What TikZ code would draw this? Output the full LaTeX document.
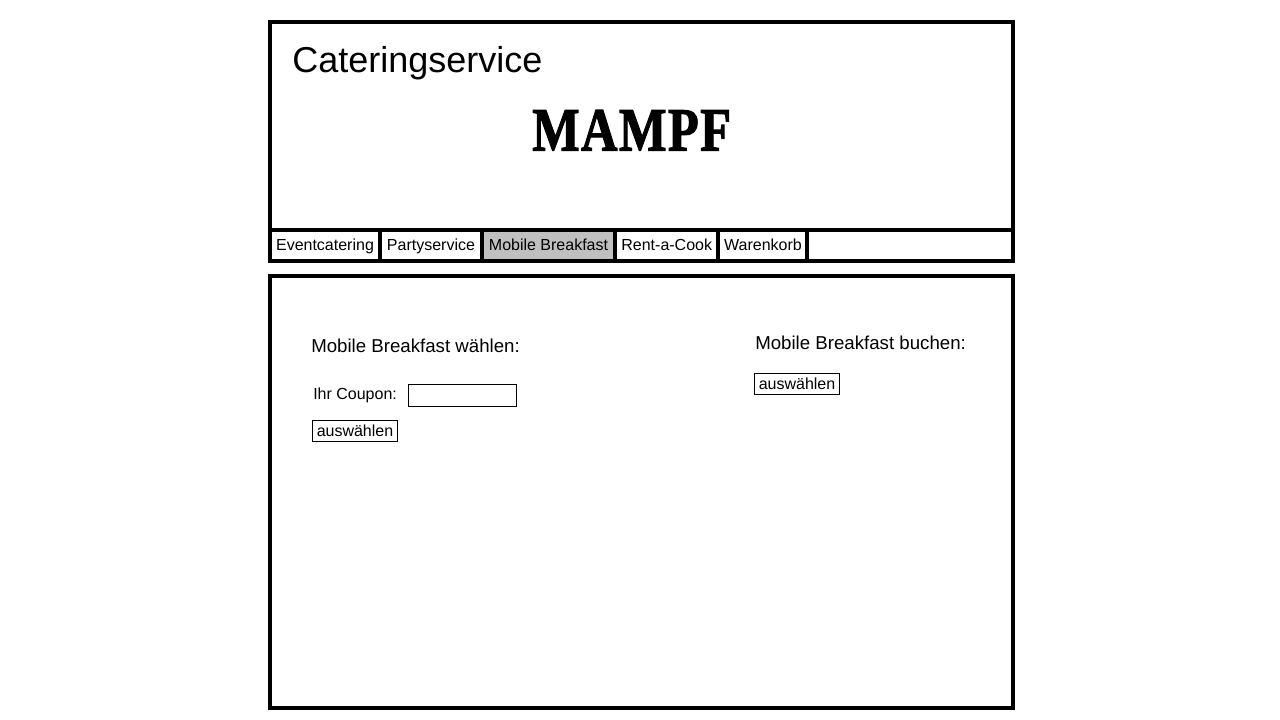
\documentclass[tikz,border=0pt]{standalone}
\usepackage{fontspec}
\setmainfont{Liberation Sans}
\newfontfamily\logofont[FakeBold=2,LetterSpace=3]{Liberation Serif Bold}
\usetikzlibrary{positioning}
\definecolor{tabActive}{HTML}{C0C0C0}

\begin{document}
\begin{tikzpicture}[x=0.75pt,y=-0.75pt,font=\fontsize{12pt}{14pt}\selectfont,node distance=0pt,
      frame/.style={draw=black,line width=3pt,outer sep=0pt,inner sep=0pt,minimum width=557.25pt},
      tab/.style={draw=black,line width=3pt,outer sep=0pt,inner sep=0pt,minimum height=23.25pt,text height=9pt,text depth=0.75pt,align=center},
      btn/.style={draw=black,line width=0.75pt,outer sep=0pt,inner sep=0pt,minimum width=63.75pt,minimum height=15.75pt,text height=9.6pt,text depth=0.75pt},
      label/.style={inner sep=0pt,anchor=base west},
      heading/.style={label,font=\fontsize{14pt}{16pt}\selectfont}]
    \useasboundingbox (0,0) rectangle (1280,720);
    \node[frame,minimum height=156pt,anchor=north west] (head) at (270,22) {};
    \node[frame,minimum height=23.25pt,below=of head] (nav) {};
    \node[frame,minimum height=324pt,below=11.25pt of nav] (main) {};
    \node[label,font=\fontsize{27pt}{30pt}\selectfont] (title) at (292,73) {Cateringservice};
    \node[label,font=\fontsize{46pt}{50pt}\logofont,xscale=0.82] (logo) at (532,150.5) {MAMPF};
    % navigation
    \node[tab,minimum width=82.5pt,anchor=north west] (event) at (nav.north west) {Eventcatering};
    \node[tab,minimum width=76.5pt,right=of event] (party) {Partyservice};
    \node[tab,minimum width=99.75pt,fill=tabActive,right=of party] (mobile) {Mobile Breakfast};
    \node[tab,minimum width=77.6pt,right=of mobile] (rent) {Rent-a-Cook};
    \node[tab,minimum width=66.75pt,right=of rent] (cart) {Warenkorb};
    % left form
    \node[heading] (choose) at (311,352) {Mobile Breakfast wählen:};
    \node[label] (coupon) at (313,399.5) {Ihr Coupon:};
    \node[btn,minimum width=81pt,minimum height=16.5pt,anchor=west] (couponfield) at (408.5,395.5) {};
    \node[btn,anchor=north west] (choosebtn) at (312.5,420.5) {auswählen};
    % right form
    \node[heading] (book) at (755,349) {Mobile Breakfast buchen:};
    \node[btn,anchor=north west] (bookbtn) at (754.5,373.5) {auswählen};
  \end{tikzpicture}
\end{document}
